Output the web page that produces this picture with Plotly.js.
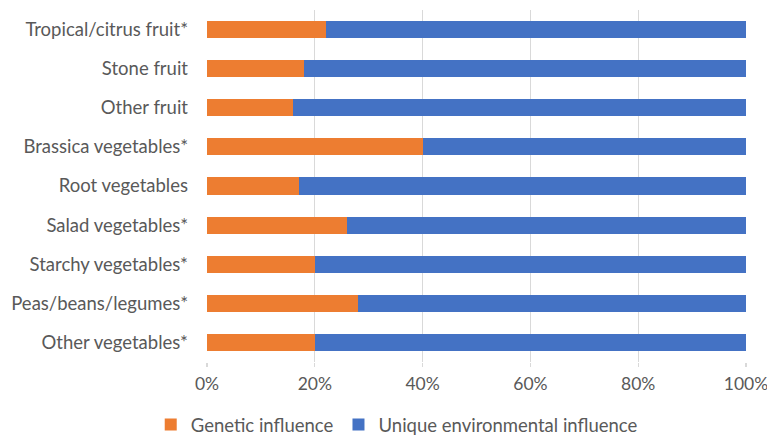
<!DOCTYPE html>
<html>
<head>
<meta charset="utf-8">
<script src="https://cdn.plot.ly/plotly-3.0.1.min.js"></script>
<style>html,body{margin:0;padding:0;background:#fff;}#chart{width:767px;height:439px;}</style>
</head>
<body>
<div id="chart"></div>
<script>
const categories = ["Tropical/citrus fruit*", "Stone fruit", "Other fruit", "Brassica vegetables*", "Root vegetables", "Salad vegetables*", "Starchy vegetables*", "Peas/beans/legumes*", "Other vegetables*"];
const genetic = [22, 18, 16, 40, 17, 26, 20, 28, 20];
const environmental = [78, 82, 84, 60, 83, 74, 80, 72, 80];
const tickVals = [0, 20, 40, 60, 80, 100];
const tickText = ["0%", "20%", "40%", "60%", "80%", "100%"];

const traces = [
  {type: 'bar', orientation: 'h', name: 'Genetic influence', y: categories, x: genetic,
   marker: {color: '#ED7D31'}, hoverinfo: 'x+y'},
  {type: 'bar', orientation: 'h', name: 'Unique environmental influence', y: categories, x: environmental,
   marker: {color: '#4472C4'}, hoverinfo: 'x+y'}
];
const layout = {
  width: 767, height: 439,
  margin: {l: 207, r: 21, t: 10, b: 77, pad: 0, autoexpand: false},
  barmode: 'stack', bargap: 0.56,
  paper_bgcolor: '#fff', plot_bgcolor: '#fff',
  font: {family: 'Lato, "Open Sans", sans-serif', size: 18.5, color: '#595959'},
  xaxis: {range: [0, 100], tickvals: tickVals, ticktext: tickText, showgrid: true,
          gridcolor: '#d9d9d9', gridwidth: 1.3, zeroline: false, showline: false,
          ticks: 'outside', ticklen: 4, tickcolor: '#d9d9d9', tickwidth: 1.3,
          ticklabelstandoff: 2, ticklabeloverflow: 'allow',
          tickfont: {size: 17.5, color: '#595959'}, fixedrange: true},
  yaxis: {autorange: 'reversed', showgrid: false, zeroline: false, showline: false,
          ticks: '', ticklabelstandoff: 18, tickfont: {size: 18.5, color: '#595959'}, fixedrange: true},
  showlegend: true,
  legend: {orientation: 'h', x: 0.352, xanchor: 'center', y: -0.125, yanchor: 'top',
           font: {size: 18.5, color: '#595959'}, traceorder: 'normal', itemwidth: 30,
           itemsizing: 'constant'},
};
Plotly.newPlot('chart', traces, layout, {displayModeBar: false, staticPlot: true});
</script>
</body>
</html>
